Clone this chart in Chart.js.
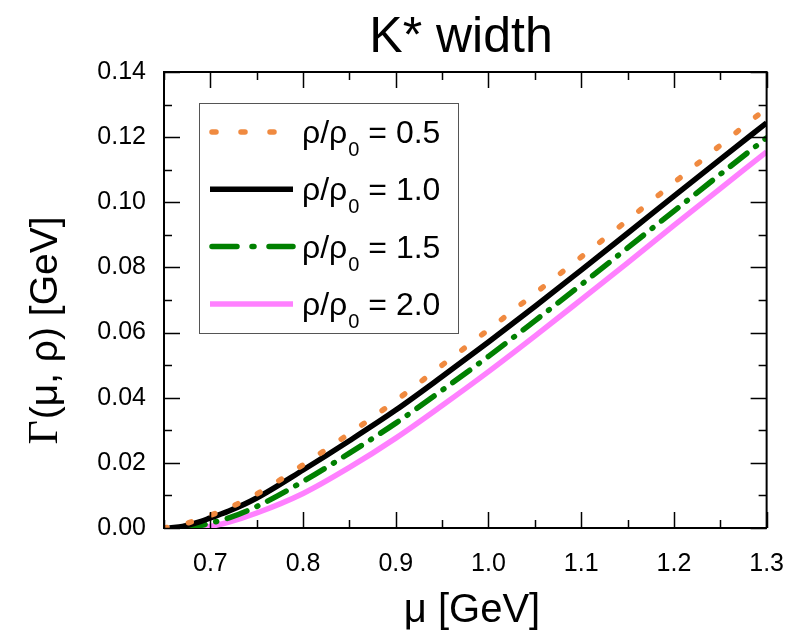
<!DOCTYPE html>
<html><head><meta charset="utf-8">
<script src="https://cdn.jsdelivr.net/npm/chart.js@4"></script>
<style>html,body{margin:0;padding:0;background:#fff}#wrap{width:805px;height:635px;position:relative}</style>
</head><body><div id="wrap"><canvas id="c" width="805" height="635"></canvas></div>
<script>
// ---------- data ----------
const chartTitle = 'K* width';
const xAxisTitle = 'μ [GeV]';
const yAxisTitleSymbol = 'Γ';
const yAxisTitleRest = '(μ, ρ) [GeV]';
const xTickValues = [0.7, 0.8, 0.9, 1.0, 1.1, 1.2, 1.3];
const xMinorTickValues = [0.65, 0.75, 0.85, 0.95, 1.05, 1.15, 1.25];
const yTickValues = [0, 0.02, 0.04, 0.06, 0.08, 0.10, 0.12, 0.14];
const yMinorTickValues = [0.01, 0.03, 0.05, 0.07, 0.09, 0.11, 0.13];
const densityLabels = ['0.5', '1.0', '1.5', '2.0'];

const muHalf = [0.65, 0.67, 0.69, 0.70, 0.72, 0.75, 0.80, 0.85, 0.90, 0.95, 1.00, 1.05, 1.10, 1.15, 1.20, 1.25, 1.30];
const gammaHalf = [0, 0.0011, 0.0029, 0.0039, 0.0062, 0.0104, 0.0194, 0.0290, 0.0391, 0.0500, 0.0609, 0.0720, 0.0832, 0.0945, 0.1060, 0.1175, 0.1289];

const muOne = [0.656, 0.67, 0.69, 0.70, 0.72, 0.75, 0.80, 0.85, 0.90, 0.95, 1.00, 1.05, 1.10, 1.15, 1.20, 1.25, 1.30];
const gammaOne = [0, 0.0005, 0.0020, 0.0031, 0.0052, 0.0092, 0.0178, 0.0268, 0.0362, 0.0465, 0.0571, 0.0680, 0.0792, 0.0905, 0.1019, 0.1132, 0.1244];

const muOneHalf = [0.672, 0.69, 0.70, 0.72, 0.75, 0.80, 0.85, 0.90, 0.95, 1.00, 1.05, 1.10, 1.15, 1.20, 1.25, 1.30];
const gammaOneHalf = [0, 0.0008, 0.0015, 0.0031, 0.0066, 0.0143, 0.0230, 0.0322, 0.0423, 0.0527, 0.0636, 0.0747, 0.0860, 0.0973, 0.1086, 0.1198];

const muTwo = [0.688, 0.70, 0.72, 0.75, 0.80, 0.85, 0.90, 0.95, 1.00, 1.05, 1.10, 1.15, 1.20, 1.25, 1.30];
const gammaTwo = [0, 0.0005, 0.0018, 0.0046, 0.0106, 0.0186, 0.0276, 0.0376, 0.0480, 0.0589, 0.0701, 0.0814, 0.0929, 0.1042, 0.1155];

// ---------- build ----------
const pts = (xs, ys) => xs.map((x, i) => ({x: x, y: ys[i]}));
const SANS = "'Liberation Sans', Arial, sans-serif";
const SERIF = "'Liberation Serif', 'Times New Roman', serif";

const datasets = [
  {label: densityLabels[0], data: pts(muHalf, gammaHalf), borderColor: '#f08a40', borderWidth: 5.5, borderDash: [3, 22], borderCapStyle: 'round'},
  {label: densityLabels[1], data: pts(muOne, gammaOne), borderColor: '#000000', borderWidth: 5.5, borderDash: [], borderCapStyle: 'butt'},
  {label: densityLabels[2], data: pts(muOneHalf, gammaOneHalf), borderColor: '#008000', borderWidth: 5.5, borderDash: [21, 11, 1, 11], borderCapStyle: 'round'},
  {label: densityLabels[3], data: pts(muTwo, gammaTwo), borderColor: '#ff80ff', borderWidth: 5.5, borderDash: [], borderCapStyle: 'butt'}
].map(d => Object.assign(d, {pointRadius: 0, fill: false, cubicInterpolationMode: 'monotone'}));

const framePlugin = {
  id: 'frame',
  afterDatasetsDraw(chart) {
    const {ctx, chartArea: a, scales: {x, y}} = chart;
    ctx.save();
    ctx.strokeStyle = '#000';
    ctx.lineWidth = 2;
    ctx.beginPath();
    ctx.moveTo(a.left, a.top); ctx.lineTo(a.right, a.top); ctx.lineTo(a.right, a.bottom);
    ctx.stroke();
    ctx.lineWidth = 1.5;
    const tick = (v, len, horiz) => {
      if (horiz) {
        const px = Math.round(x.getPixelForValue(v)) + 0.5;
        ctx.moveTo(px, a.bottom); ctx.lineTo(px, a.bottom - len);
        ctx.moveTo(px, a.top); ctx.lineTo(px, a.top + len);
      } else {
        const py = Math.round(y.getPixelForValue(v)) + 0.5;
        ctx.moveTo(a.left, py); ctx.lineTo(a.left + len, py);
        ctx.moveTo(a.right, py); ctx.lineTo(a.right - len, py);
      }
    };
    ctx.beginPath();
    xTickValues.forEach(v => tick(v, 16, true));
    xMinorTickValues.forEach(v => tick(v, 8, true));
    yTickValues.forEach(v => tick(v, 16, false));
    yMinorTickValues.forEach(v => tick(v, 8, false));
    ctx.stroke();
    ctx.restore();
  },
  afterDraw(chart) {
    const {ctx} = chart;
    ctx.save();
    ctx.fillStyle = '#000';
    // main title
    ctx.font = '50px ' + SANS;
    ctx.textAlign = 'center';
    ctx.textBaseline = 'alphabetic';
    ctx.fillText(chartTitle, 461, 52);
    // x title
    ctx.font = '40px ' + SANS;
    ctx.fillText(xAxisTitle, 472, 622);
    // y title
    ctx.translate(44, 331);
    ctx.rotate(-Math.PI / 2);
    ctx.font = '42px ' + SERIF;
    const w1 = ctx.measureText(yAxisTitleSymbol).width;
    ctx.font = '39px ' + SANS;
    const w2 = ctx.measureText(yAxisTitleRest).width;
    const x0 = -(w1 + w2) / 2;
    ctx.textAlign = 'left';
    ctx.textBaseline = 'alphabetic';
    ctx.font = '42px ' + SERIF;
    ctx.fillText(yAxisTitleSymbol, x0, 13);
    ctx.font = '39px ' + SANS;
    ctx.fillText(yAxisTitleRest, x0 + w1 + 1, 13);
    ctx.restore();

    // legend
    ctx.save();
    ctx.fillStyle = '#fff';
    ctx.fillRect(199, 103, 259, 230);
    ctx.strokeStyle = '#555';
    ctx.lineWidth = 1;
    ctx.strokeRect(199.5, 103.5, 259, 230);
    chart.data.datasets.forEach((d, i) => {
      const yy = 132 + i * 57.3;
      ctx.save();
      ctx.strokeStyle = d.borderColor;
      ctx.lineWidth = 5.5;
      ctx.lineCap = d.borderCapStyle;
      let dash = d.borderDash;
      if (i === 0) dash = [4, 25];
      if (i === 2) dash = [25, 15, 2, 15];
      ctx.setLineDash(dash);
      ctx.beginPath();
      ctx.moveTo(i === 0 || i === 2 ? 212 : 210, yy);
      ctx.lineTo(293, yy);
      ctx.stroke();
      ctx.restore();
      ctx.fillStyle = '#000';
      ctx.textAlign = 'left';
      ctx.textBaseline = 'alphabetic';
      ctx.font = '32px ' + SANS;
      let tx = 302;
      const base = yy + 11;
      ctx.fillText('ρ/ρ', tx, base);
      tx += ctx.measureText('ρ/ρ').width + 1;
      ctx.font = '20px ' + SANS;
      ctx.fillText('0', tx, base + 13);
      tx += ctx.measureText('0').width;
      ctx.font = '32px ' + SANS;
      ctx.fillText(' = ' + d.label, tx, base);
    });
    ctx.restore();
  }
};

new Chart(document.getElementById('c'), {
  type: 'line',
  data: {datasets: datasets},
  options: {
    responsive: false,
    animation: false,
    devicePixelRatio: 1,
    layout: {padding: {left: 0, right: 30, top: 72, bottom: 0}},
    plugins: {legend: {display: false}, title: {display: false}, tooltip: {enabled: false}},
    scales: {
      x: {
        type: 'linear', min: 0.65, max: 1.3,
        afterBuildTicks: s => { s.ticks = xTickValues.map(v => ({value: v})); },
        afterFit: s => { s.height = 107; },
        grid: {display: false, drawTicks: false},
        border: {display: true, color: '#000', width: 2},
        ticks: {color: '#000', font: {family: SANS, size: 25}, padding: 21, maxRotation: 0, autoSkip: false,
          callback: v => Number(v).toFixed(1)}
      },
      y: {
        type: 'linear', min: 0, max: 0.14,
        afterBuildTicks: s => { s.ticks = yTickValues.map(v => ({value: v})); },
        afterFit: s => { s.width = 164; },
        grid: {display: false, drawTicks: false},
        border: {display: true, color: '#000', width: 2},
        ticks: {color: '#000', font: {family: SANS, size: 25}, padding: 18, autoSkip: false,
          callback: v => Number(v).toFixed(2)}
      }
    }
  },
  plugins: [framePlugin]
});
</script>
</body></html>
